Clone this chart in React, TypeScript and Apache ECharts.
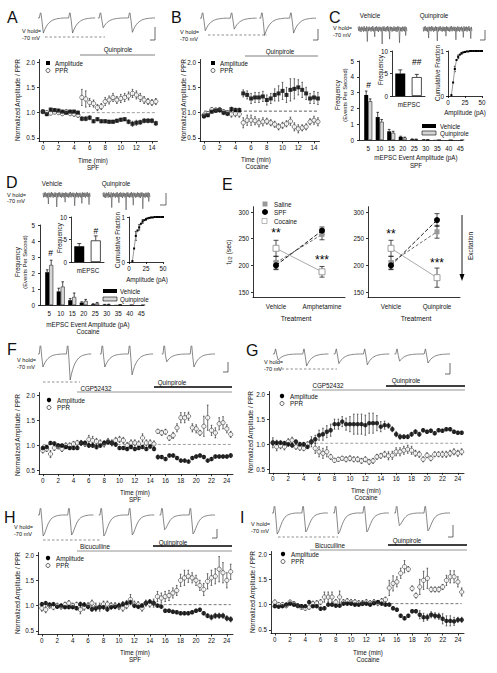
import React, { useEffect, useRef } from "react";
import * as echarts from "echarts";

const FONT = "'Liberation Sans', Arial, Helvetica, sans-serif";
const FS = 6.3;
const INK = "#111";

// ---------------- time axes ----------------
const T15 = [0, 0.5, 1, 1.5, 2, 2.5, 3, 3.5, 4, 4.5, 5, 5.5, 6, 6.5, 7, 7.5, 8, 8.5, 9, 9.5, 10, 10.5, 11, 11.5, 12, 12.5, 13, 13.5, 14, 14.5];
const T25 = [0, 0.5, 1, 1.5, 2, 2.5, 3, 3.5, 4, 4.5, 5, 5.5, 6, 6.5, 7, 7.5, 8, 8.5, 9, 9.5, 10, 10.5, 11, 11.5, 12, 12.5, 13, 13.5, 14, 14.5,
  15, 15.5, 16, 16.5, 17, 17.5, 18, 18.5, 19, 19.5, 20, 20.5, 21, 21.5, 22, 22.5, 23, 23.5, 24, 24.5];
const TICKS15 = [0, 2, 4, 6, 8, 10, 12, 14];
const TICKS25 = [0, 2, 4, 6, 8, 10, 12, 14, 16, 18, 20, 22, 24];
const NORM_TICKS = [0.5, 1.0, 1.5, 2.0];

// ---------------- Panel A (SPF) ----------------
const A_AMP = [1.02, 0.97, 1.06, 1.05, 1.04, 1.02, 1.0, 1.02, 1.02, 1.0, 0.88, 0.88, 0.9, 0.83, 0.87, 0.83, 0.83, 0.82, 0.82, 0.84, 0.86, 0.87, 0.82, 0.78, 0.8, 0.81, 0.84, 0.84, 0.84, 0.79];
const A_AMP_ERR = [0.03, 0.03, 0.03, 0.03, 0.03, 0.03, 0.03, 0.03, 0.03, 0.03, 0.04, 0.04, 0.04, 0.03, 0.03, 0.03, 0.03, 0.03, 0.03, 0.03, 0.03, 0.03, 0.04, 0.05, 0.05, 0.04, 0.04, 0.04, 0.04, 0.04];
const A_PPR = [1.02, 1.0, 0.99, 1.01, 1.0, 0.98, 1.02, 0.98, 0.97, 0.95, 1.3, 1.27, 1.2, 1.18, 1.1, 1.12, 1.22, 1.25, 1.3, 1.25, 1.28, 1.3, 1.33, 1.38, 1.35, 1.3, 1.25, 1.22, 1.2, 1.22];
const A_PPR_ERR = [0.03, 0.04, 0.03, 0.03, 0.03, 0.03, 0.04, 0.03, 0.04, 0.04, 0.16, 0.16, 0.08, 0.07, 0.06, 0.06, 0.08, 0.08, 0.08, 0.07, 0.08, 0.08, 0.08, 0.08, 0.08, 0.08, 0.07, 0.06, 0.06, 0.06];
const A_REF = [[5, 1], [14.5, 1]];

// ---------------- Panel B (Cocaine) ----------------
const B_AMP = [0.93, 0.95, 1.02, 1.04, 1.05, 1.0, 0.98, 1.07, 1.05, 1.05, 1.38, 1.35, 1.28, 1.3, 1.3, 1.32, 1.25, 1.28, 1.35, 1.38, 1.43, 1.35, 1.45, 1.47, 1.5, 1.45, 1.38, 1.28, 1.3, 1.28];
const B_AMP_ERR = [0.04, 0.03, 0.03, 0.03, 0.04, 0.04, 0.04, 0.04, 0.04, 0.04, 0.07, 0.08, 0.1, 0.1, 0.1, 0.1, 0.1, 0.1, 0.12, 0.15, 0.17, 0.15, 0.22, 0.2, 0.15, 0.15, 0.12, 0.1, 0.12, 0.12];
const B_PPR = [0.95, 0.98, 1.06, 1.05, 1.06, 1.02, 1.0, 0.97, 0.98, 0.97, 0.8, 0.85, 0.85, 0.84, 0.8, 0.82, 0.83, 0.8, 0.77, 0.72, 0.75, 0.78, 0.83, 0.72, 0.68, 0.7, 0.72, 0.82, 0.85, 0.82];
const B_PPR_ERR = [0.04, 0.04, 0.04, 0.04, 0.04, 0.04, 0.04, 0.06, 0.06, 0.06, 0.1, 0.1, 0.1, 0.08, 0.08, 0.08, 0.06, 0.06, 0.06, 0.06, 0.06, 0.06, 0.08, 0.08, 0.08, 0.06, 0.06, 0.06, 0.08, 0.08];
const B_REF = [[0, 1.03], [14.5, 1.03]];

// ---------------- Panels C / D (mEPSC histograms) ----------------
const MEPSC_BINS = [5, 10, 15, 20, 25, 30, 35, 40, 45];
const FREQ_TICKS = [0, 1, 2, 3, 4, 5];
const C_VEH = [2.85, 1.45, 0.55, 0.2, 0.05, 0.02, 0.01, 0, 0];
const C_VEH_ERR = [0.25, 0.3, 0.12, 0.04, 0.02, 0.01, 0, 0, 0];
const C_QUIN = [2.45, 1.15, 0.45, 0.15, 0.04, 0.01, 0.01, 0, 0];
const C_QUIN_ERR = [0.15, 0.15, 0.1, 0.03, 0.02, 0.01, 0, 0, 0];
const C_SIG_X = [5.2];
const C_SIG_Y = [3.45];
const C_SIG_T = ["#"];
const D_VEH = [2.05, 0.85, 0.3, 0.15, 0.05, 0.03, 0.01, 0, 0];
const D_VEH_ERR = [0.15, 0.2, 0.1, 0.05, 0.03, 0.01, 0, 0, 0];
const D_QUIN = [2.5, 1.15, 0.5, 0.25, 0.1, 0.03, 0.01, 0.01, 0];
const D_QUIN_ERR = [0.3, 0.3, 0.25, 0.1, 0.06, 0.02, 0.01, 0, 0];
const D_SIG_X = [5.6];
const D_SIG_Y = [3.25];
const D_SIG_T = ["#"];

const INSET_CATS = ["Vehicle", "Quinpirole"];
const INSET_TICKS = [0, 5, 10];
const C_FREQ = [5.0, 4.2];
const C_FREQ_ERR = [0.8, 0.6];
const C_FREQ_SIG = ["", "##"];
const C_FREQ_SIG_Y = [0, 7.6];
const D_FREQ = [3.5, 4.8];
const D_FREQ_ERR = [0.6, 1.0];
const D_FREQ_SIG = ["", "#"];
const D_FREQ_SIG_Y = [0, 7.0];

const CUM_X = [5, 7.5, 10, 12.5, 15, 17.5, 20, 22.5, 25, 27.5, 30, 32.5, 35, 37.5, 40, 42.5, 45, 47.5, 50];
const C_CUM = [0.02, 0.3, 0.6, 0.8, 0.87, 0.92, 0.95, 0.97, 0.98, 0.99, 0.99, 1, 1, 1, 1, 1, 1, 1, 1];
const C_CUM_ERR = [0, 0, 0.06, 0, 0.04, 0, 0.02, 0, 0.01, 0, 0, 0, 0, 0, 0, 0, 0, 0, 0];
const D_CUM = [0.02, 0.3, 0.58, 0.7, 0.77, 0.85, 0.9, 0.93, 0.95, 0.97, 0.98, 0.99, 0.99, 1, 1, 1, 1, 1, 1];
const D_CUM_ERR = [0, 0, 0.1, 0, 0.06, 0, 0.04, 0, 0.02, 0, 0.01, 0, 0, 0, 0, 0, 0, 0, 0];
const CUM_X_TICKS = [0, 25, 50];
const CUM_Y_TICKS = [0, 1];

// ---------------- Panel E ----------------
const E_TICKS = [150, 200, 250, 300];
const E_CATS_L = ["Vehicle", "Amphetamine"];
const E_CATS_R = ["Vehicle", "Quinpirole"];
const E_L_SALINE = [205, 258];
const E_L_SALINE_ERR = [12, 10];
const E_L_SPF = [200, 265];
const E_L_SPF_ERR = [8, 7];
const E_L_COC = [232, 188];
const E_L_COC_ERR = [15, 10];
const E_R_SALINE = [205, 263];
const E_R_SALINE_ERR = [12, 12];
const E_R_SPF = [200, 285];
const E_R_SPF_ERR = [8, 12];
const E_R_COC = [232, 177];
const E_R_COC_ERR = [15, 18];
const E_L_STARS = ["**", "***"];
const E_L_STAR_Y = [261, 210];
const E_R_STARS = ["**", "***"];
const E_R_STAR_Y = [259, 204];

// ---------------- Panel F (SPF, CGP52432) ----------------
const F_AMP = [0.95, 0.97, 1.05, 1.04, 1.0, 1.0, 0.97, 0.95, 0.95, 0.95, 1.05, 1.05, 1.0, 1.0, 0.97, 1.0, 1.05, 1.07, 1.05, 1.02, 0.95, 0.95, 0.93, 0.97, 0.93, 0.95, 0.97, 0.93, 0.98, 0.93,
  0.77, 0.77, 0.73, 0.8, 0.8, 0.75, 0.7, 0.7, 0.68, 0.75, 0.78, 0.8, 0.77, 0.7, 0.73, 0.78, 0.78, 0.78, 0.78, 0.8];
const F_AMP_ERR = [0.04, 0.03, 0.03, 0.03, 0.03, 0.03, 0.03, 0.03, 0.03, 0.03, 0.04, 0.04, 0.04, 0.04, 0.04, 0.04, 0.04, 0.04, 0.04, 0.04, 0.03, 0.03, 0.03, 0.03, 0.03, 0.03, 0.03, 0.03, 0.03, 0.03,
  0.04, 0.03, 0.03, 0.03, 0.03, 0.03, 0.03, 0.03, 0.03, 0.03, 0.03, 0.03, 0.03, 0.03, 0.03, 0.03, 0.03, 0.03, 0.03, 0.04];
const F_PPR = [0.9, 0.93, 0.83, 0.95, 0.98, 0.93, 1.0, 1.0, 1.03, 1.05, 1.05, 1.03, 1.12, 1.1, 1.08, 1.05, 1.03, 1.08, 1.05, 1.1, 1.12, 1.1, 1.0, 1.05, 1.05, 1.03, 1.15, 1.05, 1.05, 1.03,
  1.28, 1.25, 1.27, 1.15, 1.2, 1.35, 1.55, 1.55, 1.58, 1.35, 1.33, 1.25, 1.38, 1.55, 1.3, 1.25, 1.43, 1.45, 1.33, 1.22];
const F_PPR_ERR = [0.05, 0.05, 0.07, 0.05, 0.05, 0.05, 0.05, 0.05, 0.05, 0.05, 0.05, 0.05, 0.08, 0.08, 0.06, 0.06, 0.06, 0.06, 0.06, 0.06, 0.06, 0.06, 0.06, 0.06, 0.06, 0.06, 0.08, 0.06, 0.06, 0.06,
  0.04, 0.05, 0.05, 0.05, 0.06, 0.08, 0.1, 0.1, 0.08, 0.08, 0.08, 0.05, 0.2, 0.25, 0.1, 0.1, 0.12, 0.12, 0.08, 0.06];
const F_REF = [[0, 1.02], [24.5, 1.02]];

// ---------------- Panel G (Cocaine, CGP52432) ----------------
const G_AMP = [1.03, 1.03, 1.03, 1.02, 1.0, 0.98, 1.05, 1.0, 1.0, 0.95, 1.05, 1.1, 1.18, 1.2, 1.25, 1.28, 1.4, 1.4, 1.45, 1.4, 1.4, 1.4, 1.4, 1.4, 1.38, 1.42, 1.42, 1.42, 1.35, 1.38,
  1.37, 1.3, 1.2, 1.15, 1.15, 1.15, 1.2, 1.25, 1.2, 1.28, 1.25, 1.27, 1.22, 1.28, 1.27, 1.3, 1.3, 1.25, 1.23, 1.23];
const G_AMP_ERR = [0.05, 0.05, 0.04, 0.04, 0.04, 0.04, 0.04, 0.04, 0.04, 0.04, 0.05, 0.08, 0.1, 0.12, 0.12, 0.12, 0.1, 0.1, 0.1, 0.12, 0.15, 0.2, 0.2, 0.2, 0.2, 0.2, 0.2, 0.15, 0.1, 0.08,
  0.05, 0.05, 0.05, 0.05, 0.04, 0.04, 0.04, 0.04, 0.04, 0.03, 0.03, 0.03, 0.03, 0.03, 0.03, 0.03, 0.03, 0.03, 0.03, 0.03];
const G_PPR = [1.03, 0.95, 0.97, 0.95, 1.05, 1.08, 0.95, 0.93, 0.92, 1.0, 1.05, 0.92, 0.85, 0.82, 0.85, 0.75, 0.68, 0.7, 0.72, 0.7, 0.72, 0.7, 0.7, 0.67, 0.7, 0.65, 0.67, 0.75, 0.77, 0.8,
  0.77, 0.78, 0.85, 0.85, 0.88, 0.9, 0.88, 0.82, 0.8, 0.7, 0.78, 0.72, 0.8, 0.8, 0.8, 0.8, 0.82, 0.85, 0.82, 0.85];
const G_PPR_ERR = [0.1, 0.08, 0.06, 0.06, 0.06, 0.06, 0.05, 0.05, 0.05, 0.05, 0.1, 0.1, 0.1, 0.1, 0.1, 0.05, 0.04, 0.04, 0.04, 0.05, 0.05, 0.05, 0.05, 0.05, 0.05, 0.05, 0.05, 0.05, 0.05, 0.06,
  0.08, 0.08, 0.08, 0.08, 0.08, 0.08, 0.08, 0.06, 0.06, 0.05, 0.05, 0.05, 0.05, 0.05, 0.06, 0.06, 0.06, 0.06, 0.06, 0.06];
const G_REF = [[5.5, 1.02], [24.5, 1.02]];

// ---------------- Panel H (SPF, Bicuculline) ----------------
const H_AMP = [1.03, 1.05, 1.02, 1.03, 0.98, 1.0, 0.97, 0.97, 0.97, 0.95, 1.03, 1.02, 0.98, 0.93, 0.95, 0.97, 0.97, 0.93, 0.97, 0.98, 1.0, 1.03, 1.05, 1.07, 1.0, 0.98, 1.0, 1.05, 1.08, 1.05,
  1.0, 0.98, 0.9, 0.9, 0.88, 0.87, 0.85, 0.85, 0.85, 0.87, 0.9, 0.92, 0.85, 0.8, 0.77, 0.8, 0.8, 0.8, 0.75, 0.73];
const H_AMP_ERR = [0.03, 0.03, 0.03, 0.03, 0.03, 0.03, 0.03, 0.03, 0.03, 0.03, 0.04, 0.04, 0.04, 0.04, 0.04, 0.04, 0.04, 0.04, 0.04, 0.04, 0.05, 0.05, 0.05, 0.05, 0.04, 0.04, 0.04, 0.04, 0.04, 0.04,
  0.03, 0.03, 0.03, 0.03, 0.03, 0.03, 0.03, 0.03, 0.03, 0.03, 0.03, 0.03, 0.03, 0.04, 0.05, 0.05, 0.05, 0.05, 0.05, 0.05];
const H_PPR = [0.95, 0.92, 1.0, 0.97, 1.0, 0.98, 1.02, 1.05, 1.0, 1.02, 0.92, 0.97, 1.0, 1.05, 0.97, 0.97, 1.03, 1.03, 1.0, 1.0, 0.98, 0.95, 1.0, 1.12, 1.03, 1.02, 0.95, 1.05, 1.03, 1.05,
  1.18, 1.15, 1.18, 1.2, 1.25, 1.3, 1.5, 1.55, 1.58, 1.55, 1.5, 1.4, 1.32, 1.48, 1.55, 1.58, 1.72, 1.65, 1.5, 1.67];
const H_PPR_ERR = [0.06, 0.06, 0.05, 0.05, 0.05, 0.05, 0.05, 0.05, 0.05, 0.05, 0.08, 0.06, 0.06, 0.06, 0.08, 0.08, 0.06, 0.06, 0.06, 0.06, 0.06, 0.06, 0.06, 0.1, 0.06, 0.06, 0.06, 0.06, 0.06, 0.08,
  0.1, 0.1, 0.1, 0.1, 0.1, 0.1, 0.12, 0.15, 0.12, 0.1, 0.1, 0.1, 0.12, 0.15, 0.15, 0.15, 0.25, 0.2, 0.15, 0.15];
const H_REF = [[14.5, 1.02], [24.5, 1.02]];

// ---------------- Panel I (Cocaine, Bicuculline) ----------------
const I_AMP = [0.97, 0.96, 0.97, 1.0, 1.02, 1.0, 0.98, 0.97, 0.97, 1.05, 0.97, 0.97, 0.92, 0.93, 1.0, 1.0, 0.98, 0.98, 1.02, 1.02, 1.02, 1.0, 1.0, 1.02, 1.02, 1.0, 1.03, 1.05, 1.02, 1.0,
  1.0, 0.93, 0.9, 0.78, 0.73, 0.78, 0.87, 0.87, 0.8, 0.75, 0.75, 0.8, 0.78, 0.77, 0.72, 0.68, 0.68, 0.67, 0.7, 0.7];
const I_AMP_ERR = [0.03, 0.03, 0.03, 0.03, 0.03, 0.03, 0.03, 0.03, 0.03, 0.03, 0.03, 0.03, 0.03, 0.03, 0.03, 0.03, 0.03, 0.03, 0.03, 0.03, 0.03, 0.03, 0.03, 0.03, 0.03, 0.03, 0.03, 0.03, 0.03, 0.03,
  0.03, 0.03, 0.03, 0.03, 0.03, 0.03, 0.03, 0.03, 0.08, 0.08, 0.06, 0.06, 0.06, 0.06, 0.1, 0.1, 0.1, 0.08, 0.05, 0.05];
const I_PPR = [1.05, 1.0, 1.0, 0.98, 1.05, 1.02, 0.98, 0.95, 0.93, 0.95, 1.02, 1.03, 1.05, 1.15, 1.15, 1.15, 1.05, 1.15, 1.05, 1.07, 1.05, 1.05, 1.03, 1.03, 1.05, 1.03, 1.05, 1.03, 1.07, 1.1,
  1.33, 1.42, 1.45, 1.62, 1.75, 1.7, 1.32, 1.18, 1.35, 1.48, 1.52, 1.3, 1.3, 1.3, 1.35, 1.48, 1.55, 1.55, 1.45, 1.25];
const I_PPR_ERR = [0.04, 0.04, 0.04, 0.04, 0.04, 0.04, 0.04, 0.04, 0.04, 0.04, 0.05, 0.05, 0.05, 0.1, 0.1, 0.1, 0.05, 0.12, 0.05, 0.05, 0.05, 0.05, 0.05, 0.05, 0.05, 0.05, 0.05, 0.05, 0.05, 0.05,
  0.15, 0.15, 0.1, 0.1, 0.12, 0.05, 0.05, 0.05, 0.15, 0.18, 0.2, 0.05, 0.05, 0.05, 0.05, 0.1, 0.12, 0.12, 0.1, 0.08];
const I_REF = [[14.5, 1.02], [24.5, 1.02]];

// ---------------- example traces (normalised EPSC shape, amplitudes per sweep) ----------------
const PULSE_FAST = [0, 0, 0.45, -0.2, -1, -0.78, -0.6, -0.46, -0.35, -0.27, -0.2, -0.15, -0.11, -0.08, -0.06, -0.04, -0.03, -0.02, -0.01, 0, 0, 0];
const PULSE_SLOW = [0, 0, 0.45, -0.25, -1, -0.9, -0.72, -0.55, -0.4, -0.29, -0.2, -0.14, -0.1, -0.07, -0.05, -0.03, -0.02, -0.01, 0, 0, 0, 0];
const A_SWEEPS = [[1.0, 1.0], [0.65, 0.95]];
const B_SWEEPS = [[0.8, 0.7], [1.1, 0.95]];
const F_SWEEPS = [[0.5, 1.0], [0.5, 0.8], [0.3, 0.5]];
const G_SWEEPS = [[0.5, 1.0], [0.8, 0.9], [0.6, 0.75]];
const H_SWEEPS = [[1.0, 0.95], [1.0, 0.95], [0.7, 0.9]];
const I_SWEEPS = [[1.0, 0.9], [1.0, 0.9], [0.6, 0.85]];

const NOISE_1 = [0.7, -0.6, 0.9, -0.8, 0.5, -1.0, 0.8, -0.5, 0.6, -0.9, 1.0, -0.7, 0.4, -0.8, 0.9, -4.2, 0.6, -0.7, 0.8, -0.5,
  0.5, -0.9, 0.7, -0.6, 1.0, -0.8, 0.5, -2.6, 0.7, -0.6, 0.9, -0.7, 0.6, -1.0, 0.8, -0.5, 0.7, -0.8, 0.5, -5.0,
  0.8, -0.6, 0.9, -0.7, 0.5, -0.9, 0.7, -0.6, 1.0, -0.8, 0.6, -3.4, 0.8, -0.5, 0.7, -0.9, 0.5, -0.7, 0.9, -0.6,
  0.7, -0.8, 0.6, -1.0, 0.9, -0.5, 0.8, -4.6, 0.6, -0.7, 0.5, -0.9, 0.8, -0.6, 0.7, -0.8, 0.9, -2.2, 0.6, -0.7];
const NOISE_2 = [0.6, -0.8, 0.8, -0.6, 0.9, -0.7, 0.5, -0.9, 0.7, -3.0, 0.8, -0.6, 0.6, -0.8, 1.0, -0.5, 0.7, -0.9, 0.5, -0.7,
  0.9, -0.6, 0.7, -4.0, 0.6, -0.8, 0.8, -0.5, 0.9, -0.7, 0.5, -0.9, 0.8, -0.6, 0.7, -0.8, 0.6, -2.4, 0.9, -0.6,
  0.7, -0.7, 0.5, -0.9, 0.8, -0.6, 1.0, -0.8, 0.6, -0.5, 0.8, -0.7, 0.7, -3.6, 0.5, -0.8, 0.9, -0.6, 0.7, -0.9,
  0.6, -0.5, 0.8, -0.8, 0.5, -2.8, 0.9, -0.7, 0.7, -0.6, 0.8, -0.9, 0.6, -0.5, 1.0, -0.7, 0.5, -3.2, 0.7, -0.6];

function pairTrace(groups: number[][], pulse: number[], gap: number) {
  const pts: any[] = [];
  let x = 0;
  groups.forEach((g, gi) => {
    if (gi > 0) {
      pts.push([x, null]);
      x += gap;
    }
    g.forEach((a) => pulse.forEach((v) => { pts.push([x, v > 0 ? v : v * a]); x += 1; }));
  });
  return { pts, n: x - 1 };
}
function noiseTrace(arrs: number[][], gap: number) {
  const pts: any[] = [];
  let x = 0;
  arrs.forEach((arr, gi) => {
    if (gi > 0) { pts.push([x, null]); x += gap; }
    arr.forEach((v) => { pts.push([x, v]); x += 1; });
  });
  return { pts, n: x - 1 };
}

function errItem(offset: number, cap: number, upOnly: boolean, color: string, lw: number) {
  return function (_p: any, api: any) {
    const x = api.value(0), y = api.value(1), e = api.value(2);
    if (!e) return { type: "group", children: [] };
    const p1 = api.coord([x, y + e]);
    const p0 = api.coord([x, upOnly ? y : y - e]);
    const cx = p1[0] + offset;
    const st = { stroke: color, lineWidth: lw };
    const ch: any[] = [{ type: "line", shape: { x1: cx, y1: p1[1], x2: cx, y2: p0[1] }, style: st }];
    if (cap > 0) {
      ch.push({ type: "line", shape: { x1: cx - cap, y1: p1[1], x2: cx + cap, y2: p1[1] }, style: st });
      if (!upOnly) ch.push({ type: "line", shape: { x1: cx - cap, y1: p0[1], x2: cx + cap, y2: p0[1] }, style: st });
    }
    return { type: "group", children: ch };
  };
}

function buildOption() {
  const grid: any[] = [], xAxis: any[] = [], yAxis: any[] = [], series: any[] = [], graphic: any[] = [];
  const marks: any[] = [];
  const addGrid = (left: number, top: number, width: number, height: number) => {
    grid.push({ left, top, width, height });
    return grid.length - 1;
  };
  const axisLine = { show: true, onZero: false, lineStyle: { color: "#000", width: 0.8 } };
  const lbl = (vals: number[], fmt?: any, margin = 3) => ({ show: true, customValues: vals, fontSize: FS, color: INK, fontFamily: FONT, margin, formatter: fmt });
  const tick = (vals: number[], len = 2) => ({ show: true, customValues: vals, length: len, lineStyle: { color: "#000", width: 0.8 } });
  // significance marks: placed later through chart.convertToPixel on the grid's own axes
  const markLabels = (gi: number, pts: any[], fs: number) => {
    pts.forEach((p) => { if (p[2]) marks.push({ gi, x: p[0], y: p[1], text: p[2], fs }); });
  };

  // --- traces ---
  const addTrace = (left: number, top: number, width: number, height: number, ymin: number, ymax: number, tr: any, color = "#555", lw = 0.7) => {
    const gi = addGrid(left, top, width, height);
    xAxis.push({ gridIndex: gi, type: "value", min: 0, max: tr.n, show: false });
    yAxis.push({ gridIndex: gi, type: "value", min: ymin, max: ymax, show: false });
    series.push({ type: "line", xAxisIndex: gi, yAxisIndex: gi, data: tr.pts, symbol: "none", connectNulls: false, lineStyle: { color, width: lw }, silent: true });
  };

  // --- time course panels ---
  const addTime = (p: any) => {
    const gi = addGrid(p.left, p.top, p.width, p.height);
    xAxis.push({ gridIndex: gi, type: "value", min: p.xmin, max: p.xmax, axisLine, axisTick: tick(p.xticks), axisLabel: lbl(p.xticks), splitLine: { show: false } });
    yAxis.push({ gridIndex: gi, type: "value", min: 0.43, max: 2.05, axisLine, axisTick: tick(NORM_TICKS), axisLabel: lbl(NORM_TICKS, (v: number) => v.toFixed(1), 4), splitLine: { show: false } });
    series.push({ type: "line", xAxisIndex: gi, yAxisIndex: gi, data: p.ref, symbol: "none", lineStyle: { color: p.refColor, width: 0.8, type: [3, 2] }, z: 1, silent: true });
    const amp = p.T.map((t: number, i: number) => [t, p.amp[i], p.ampErr[i]]);
    const ppr = p.T.map((t: number, i: number) => [t, p.ppr[i], p.pprErr[i]]);
    series.push({ type: "custom", xAxisIndex: gi, yAxisIndex: gi, data: ppr, encode: { x: 0, y: 1 }, renderItem: errItem(0, 0.8, false, "#333", 0.7), z: 2, silent: true });
    series.push({ type: "custom", xAxisIndex: gi, yAxisIndex: gi, data: amp, encode: { x: 0, y: 1 }, renderItem: errItem(0, 0.8, false, "#333", 0.7), z: 2, silent: true });
    series.push({ type: "scatter", xAxisIndex: gi, yAxisIndex: gi, data: ppr.map((d: number[]) => [d[0], d[1]]), symbol: "circle", symbolSize: 4.3, itemStyle: { color: "#fff", borderColor: "#222", borderWidth: 0.7 }, z: 3, silent: true });
    series.push({ type: "scatter", xAxisIndex: gi, yAxisIndex: gi, data: amp.map((d: number[]) => [d[0], d[1]]), symbol: p.ampSymbol, symbolSize: p.ampSymbol === "rect" ? 4 : 4.5, itemStyle: { color: "#000" }, z: 4, silent: true });
  };

  // --- mEPSC histograms ---
  const addHist = (left: number, top: number, height: number, veh: number[], vehE: number[], quin: number[], quinE: number[], sx: number[], sy: number[], st: string[]) => {
    const gi = addGrid(left, top, 103.5, height);
    xAxis.push({ gridIndex: gi, type: "value", min: 1, max: 46, axisLine, axisTick: { show: false }, axisLabel: lbl(MEPSC_BINS, undefined, 5), splitLine: { show: false } });
    yAxis.push({ gridIndex: gi, type: "value", min: 0, max: 5, axisLine, axisTick: tick(FREQ_TICKS), axisLabel: lbl(FREQ_TICKS, undefined, 5), splitLine: { show: false } });
    series.push({ type: "bar", xAxisIndex: gi, yAxisIndex: gi, data: MEPSC_BINS.map((b, i) => [b, veh[i]]), barWidth: 4, barGap: "0%", itemStyle: { color: "#000" }, silent: true });
    series.push({ type: "bar", xAxisIndex: gi, yAxisIndex: gi, data: MEPSC_BINS.map((b, i) => [b, quin[i]]), barWidth: 4, barGap: "0%", itemStyle: { color: "#d6d6d6", borderColor: "#000", borderWidth: 0.5 }, silent: true });
    series.push({ type: "custom", xAxisIndex: gi, yAxisIndex: gi, data: MEPSC_BINS.map((b, i) => [b, veh[i], vehE[i]]), encode: { x: 0, y: 1 }, renderItem: errItem(-2, 1.3, true, "#000", 0.7), z: 3, silent: true });
    series.push({ type: "custom", xAxisIndex: gi, yAxisIndex: gi, data: MEPSC_BINS.map((b, i) => [b, quin[i], quinE[i]]), encode: { x: 0, y: 1 }, renderItem: errItem(2, 1.3, true, "#000", 0.7), z: 3, silent: true });
    markLabels(gi, sx.map((x, i) => [x, sy[i], st[i]]), 8.5);
  };

  const addInsetFreq = (left: number, top: number, vals: number[], errs: number[], sig: string[], sigY: number[]) => {
    const gi = addGrid(left, top, 33, 45);
    xAxis.push({ gridIndex: gi, type: "category", data: INSET_CATS, axisLine, axisTick: { show: false }, axisLabel: { show: false } });
    yAxis.push({ gridIndex: gi, type: "value", min: 0, max: 10, axisLine, axisTick: tick(INSET_TICKS), axisLabel: lbl(INSET_TICKS, undefined, 4), splitLine: { show: false } });
    series.push({ type: "bar", xAxisIndex: gi, yAxisIndex: gi, barWidth: 10, silent: true,
      data: vals.map((v, i) => ({ value: v, itemStyle: i === 0 ? { color: "#000" } : { color: "#fff", borderColor: "#000", borderWidth: 0.7 } })) });
    series.push({ type: "custom", xAxisIndex: gi, yAxisIndex: gi, data: vals.map((v, i) => [i, v, errs[i]]), encode: { x: 0, y: 1 }, renderItem: errItem(0, 2, true, "#000", 0.7), z: 3, silent: true });
    markLabels(gi, sig.map((s, i) => [INSET_CATS[i], sigY[i], s]), 8.5);
  };

  const addCum = (left: number, top: number, ys: number[], errs: number[]) => {
    const gi = addGrid(left, top, 34, 45);
    xAxis.push({ gridIndex: gi, type: "value", min: 0, max: 50, axisLine, axisTick: tick(CUM_X_TICKS), axisLabel: lbl(CUM_X_TICKS), splitLine: { show: false } });
    yAxis.push({ gridIndex: gi, type: "value", min: 0, max: 1, axisLine, axisTick: tick(CUM_Y_TICKS), axisLabel: lbl(CUM_Y_TICKS, undefined, 4), splitLine: { show: false } });
    series.push({ type: "line", xAxisIndex: gi, yAxisIndex: gi, data: CUM_X.map((x, i) => [x, ys[i]]), symbol: "rect", symbolSize: 2, itemStyle: { color: "#000" }, lineStyle: { color: "#999", width: 1 }, silent: true });
    series.push({ type: "custom", xAxisIndex: gi, yAxisIndex: gi, data: CUM_X.map((x, i) => [x, ys[i], errs[i]]), encode: { x: 0, y: 1 }, renderItem: errItem(0, 1, false, "#000", 0.7), z: 3, silent: true });
  };

  const addE = (left: number, cats: string[], sal: number[], salE: number[], spf: number[], spfE: number[], coc: number[], cocE: number[], stars: string[], starY: number[]) => {
    const gi = addGrid(left, 206.7, 92, 90.7);
    xAxis.push({ gridIndex: gi, type: "category", data: cats, axisLine, axisTick: { show: false }, axisLabel: { fontSize: FS, color: INK, fontFamily: FONT, margin: 6, interval: 0 } });
    yAxis.push({ gridIndex: gi, type: "value", min: 140, max: 310, axisLine, axisTick: tick(E_TICKS), axisLabel: lbl(E_TICKS, undefined, 4), splitLine: { show: false } });
    const eb = (vals: number[], errs: number[]) => ({ type: "custom", xAxisIndex: gi, yAxisIndex: gi, data: vals.map((v, i) => [i, v, errs[i]]), encode: { x: 0, y: 1 }, renderItem: errItem(0, 2.5, false, "#222", 0.8), z: 2, silent: true });
    series.push(eb(coc, cocE), eb(sal, salE), eb(spf, spfE));
    series.push({ type: "line", xAxisIndex: gi, yAxisIndex: gi, data: coc, symbol: "rect", symbolSize: 6, itemStyle: { color: "#fff", borderColor: "#888", borderWidth: 0.8 }, lineStyle: { color: "#aaa", width: 1 }, z: 3, silent: true });
    series.push({ type: "line", xAxisIndex: gi, yAxisIndex: gi, data: sal, symbol: "rect", symbolSize: 5, itemStyle: { color: "#999" }, lineStyle: { color: "#555", width: 0.9, type: [3, 2] }, z: 4, silent: true });
    series.push({ type: "line", xAxisIndex: gi, yAxisIndex: gi, data: spf, symbol: "circle", symbolSize: 6, itemStyle: { color: "#000" }, lineStyle: { color: "#000", width: 0.9, type: [4, 2] }, z: 5, silent: true });
    markLabels(gi, stars.map((s, i) => [cats[i], starY[i], s]), 12);
  };

  // ===== Panel A =====
  addTrace(38, 13, 117, 22, -1.13, 0.33, pairTrace(A_SWEEPS, PULSE_FAST, 1));
  addTime({ left: 39, top: 59.5, width: 118.4, height: 82, xmin: -0.5, xmax: 14.7, xticks: TICKS15, T: T15, amp: A_AMP, ampErr: A_AMP_ERR, ppr: A_PPR, pprErr: A_PPR_ERR, ampSymbol: "rect", ref: A_REF, refColor: "#888" });
  // ===== Panel B =====
  addTrace(200, 13, 116, 24, -1.2, 0.33, pairTrace(B_SWEEPS, PULSE_FAST, 1));
  addTime({ left: 200, top: 59.5, width: 119.5, height: 82, xmin: -0.5, xmax: 14.7, xticks: TICKS15, T: T15, amp: B_AMP, ampErr: B_AMP_ERR, ppr: B_PPR, pprErr: B_PPR_ERR, ampSymbol: "rect", ref: B_REF, refColor: "#333" });
  // ===== Panel C =====
  addTrace(358, 23.9, 114, 21.6, -5.5, 1.7, noiseTrace([NOISE_1, NOISE_2], 25), "#333", 0.5);
  addHist(359, 61, 79, C_VEH, C_VEH_ERR, C_QUIN, C_QUIN_ERR, C_SIG_X, C_SIG_Y, C_SIG_T);
  addInsetFreq(392, 51, C_FREQ, C_FREQ_ERR, C_FREQ_SIG, C_FREQ_SIG_Y);
  addCum(448, 51, C_CUM, C_CUM_ERR);
  // ===== Panel D =====
  addTrace(43, 189.9, 107, 21.6, -5.5, 1.7, noiseTrace([NOISE_2, NOISE_1], 20), "#333", 0.5);
  addHist(40, 225, 80, D_VEH, D_VEH_ERR, D_QUIN, D_QUIN_ERR, D_SIG_X, D_SIG_Y, D_SIG_T);
  addInsetFreq(71, 217, D_FREQ, D_FREQ_ERR, D_FREQ_SIG, D_FREQ_SIG_Y);
  addCum(129, 217, D_CUM, D_CUM_ERR);
  // ===== Panel E =====
  addE(253, E_CATS_L, E_L_SALINE, E_L_SALINE_ERR, E_L_SPF, E_L_SPF_ERR, E_L_COC, E_L_COC_ERR, E_L_STARS, E_L_STAR_Y);
  addE(368, E_CATS_R, E_R_SALINE, E_R_SALINE_ERR, E_R_SPF, E_R_SPF_ERR, E_R_COC, E_R_COC_ERR, E_R_STARS, E_R_STAR_Y);
  // ===== Panel F =====
  addTrace(38, 346.2, 177, 39, -1.2, 0.3, pairTrace(F_SWEEPS, PULSE_FAST, 6));
  addTime({ left: 39, top: 392.5, width: 194, height: 81.7, xmin: -0.5, xmax: 24.8, xticks: TICKS25, T: T25, amp: F_AMP, ampErr: F_AMP_ERR, ppr: F_PPR, pprErr: F_PPR_ERR, ampSymbol: "circle", ref: F_REF, refColor: "#888" });
  // ===== Panel G =====
  addTrace(273, 349.2, 177, 19.2, -1.2, 0.4, pairTrace(G_SWEEPS, PULSE_FAST, 3));
  addTime({ left: 269, top: 391.5, width: 195, height: 81.4, xmin: -0.5, xmax: 24.8, xticks: TICKS25, T: T25, amp: G_AMP, ampErr: G_AMP_ERR, ppr: G_PPR, pprErr: G_PPR_ERR, ampSymbol: "circle", ref: G_REF, refColor: "#888" });
  // ===== Panel H =====
  addTrace(38, 508.7, 177, 30.5, -1.15, 0.3, pairTrace(H_SWEEPS, PULSE_SLOW, 3));
  addTime({ left: 38, top: 552.5, width: 195, height: 82, xmin: -0.5, xmax: 24.8, xticks: TICKS25, T: T25, amp: H_AMP, ampErr: H_AMP_ERR, ppr: H_PPR, pprErr: H_PPR_ERR, ampSymbol: "circle", ref: H_REF, refColor: "#555" });
  // ===== Panel I =====
  addTrace(272, 506.7, 178, 30.5, -1.15, 0.3, pairTrace(I_SWEEPS, PULSE_SLOW, 3));
  addTime({ left: 271, top: 551.5, width: 193, height: 82, xmin: -0.5, xmax: 24.8, xticks: TICKS25, T: T25, amp: I_AMP, ampErr: I_AMP_ERR, ppr: I_PPR, pprErr: I_PPR_ERR, ampSymbol: "circle", ref: I_REF, refColor: "#555" });

  // ---------------- graphic annotations ----------------
  const txt = (x: number, y: number, text: string, o: any = {}) => graphic.push({
    type: "text", x, y, rotation: o.rot || 0, silent: true,
    style: { text, fontSize: o.fs || FS, fontFamily: FONT, fill: o.fill || INK, fontWeight: o.fw || "normal",
      align: o.align || "center", verticalAlign: "middle", textAlign: o.align || "center", textVerticalAlign: "middle", rich: o.rich },
  });
  const line = (x1: number, y1: number, x2: number, y2: number, stroke: string, lw: number, dash?: number[]) =>
    graphic.push({ type: "line", silent: true, shape: { x1, y1, x2, y2 }, style: { stroke, lineWidth: lw, lineDash: dash } });
  const poly = (pts: number[][], stroke = "#444") => graphic.push({ type: "polyline", silent: true, shape: { points: pts }, style: { stroke, lineWidth: 0.8, fill: "none" } });
  const rect = (x: number, y: number, w: number, h: number, fill: string, stroke?: string) => graphic.push({ type: "rect", silent: true, shape: { x, y, width: w, height: h }, style: { fill, stroke, lineWidth: 0.6 } });
  const circ = (cx: number, cy: number, r: number, fill: string, stroke?: string) => graphic.push({ type: "circle", silent: true, shape: { cx, cy, r }, style: { fill, stroke, lineWidth: 0.7 } });
  const ROT = Math.PI / 2;

  // panel letters
  const LET = { fs: 16, align: "left" };
  txt(7, 17, "A", LET); txt(171, 17, "B", LET); txt(329, 17, "C", LET); txt(6, 182, "D", LET); txt(222, 184, "E", LET);
  txt(7, 349, "F", LET); txt(246, 350, "G", LET); txt(4, 517, "H", LET); txt(240, 517, "I", LET);

  // V hold labels
  const VH = { fs: 5.6, align: "left" };
  const vhold = (x: number, y: number) => { txt(x, y, "V hold=", VH); txt(x, y + 6.5, "-70 mV", VH); };
  vhold(22, 31); vhold(180, 32); vhold(333, 28); vhold(7, 194.5); vhold(17, 360); vhold(264, 362); vhold(14, 527); vhold(251, 524);

  // holding-current baselines (dashed) and scale bars
  const DASH = [2.5, 2];
  line(45, 37, 105, 37, "#777", 0.8, DASH); line(208, 35, 267, 35, "#777", 0.8, DASH);
  line(43, 382, 80, 382, "#777", 0.8, DASH); line(277, 369, 337, 369, "#777", 0.8, DASH);
  line(43, 540, 100, 540, "#777", 0.8, DASH); line(278, 537, 338, 537, "#777", 0.8, DASH);
  poly([[150, 40], [155, 40], [155, 27]]); poly([[313, 40], [318, 40], [318, 29]]); poly([[480, 40], [485, 40], [485, 30]]);
  poly([[160, 205], [166, 205], [166, 193]]); poly([[223, 372], [228, 372], [228, 362]]); poly([[445, 374], [450, 374], [450, 363]]);
  poly([[212, 538], [217, 538], [217, 529]]); poly([[448, 537], [453, 537], [453, 525]]);

  // drug application bars
  txt(118, 49, "Quinpirole"); line(80, 55, 155, 55, "#aaa", 1.6);
  txt(280, 51, "Quinpirole"); line(245, 56, 318, 56, "#aaa", 1.6);
  txt(172, 382, "Quinpirole"); line(154, 387, 232, 387, "#000", 1.4); txt(96, 388, "CGP52432"); line(77, 392, 232, 392, "#888", 0.9);
  txt(406, 380, "Quinpirole"); line(386, 386, 465, 386, "#000", 1.4); txt(328, 385, "CGP52432"); line(312, 390, 465, 390, "#888", 0.9);
  txt(173, 542, "Quinpirole"); line(153, 546, 232, 546, "#000", 1.4); txt(95, 546, "Bicuculline"); line(77, 551, 232, 551, "#888", 0.9);
  txt(407, 540, "Quinpirole"); line(388, 545, 467, 545, "#000", 1.4); txt(330, 545, "Bicuculline"); line(310, 550, 467, 550, "#888", 0.9);

  // mEPSC trace titles
  txt(370, 15, "Vehicle"); txt(434, 15, "Quinpirole"); txt(52, 183, "Vehicle"); txt(116, 183, "Quinpirole");

  // time-course legends
  const legSq = (x: number, y: number) => { rect(x - 2, y - 2, 4, 4, "#000"); txt(x + 7, y, "Amplitude", { align: "left" }); circ(x, y + 7.5, 2, "#fff", "#222"); txt(x + 7, y + 7.5, "PPR", { align: "left" }); };
  const legCi = (x: number, y: number) => { circ(x, y, 2.2, "#000"); txt(x + 8, y, "Amplitude", { align: "left" }); circ(x, y + 7.5, 2, "#fff", "#222"); txt(x + 8, y + 7.5, "PPR", { align: "left" }); };
  legSq(48, 63); legSq(213, 63); legCi(49, 400); legCi(282, 396); legCi(48, 558); legCi(283, 554);

  // axis titles, time-course panels
  const YN = "Normalized Amplitude / PPR";
  txt(17, 100, YN, { rot: ROT, fs: 6.5 }); txt(183, 100, YN, { rot: ROT, fs: 6.5 });
  txt(17, 435, YN, { rot: ROT, fs: 6.5 }); txt(250, 432, YN, { rot: ROT, fs: 6.5 });
  txt(17, 593, YN, { rot: ROT, fs: 6.5 }); txt(252, 592, YN, { rot: ROT, fs: 6.5 });
  txt(93, 160, "Time (min)"); txt(93, 167, "SPF");
  txt(256, 159, "Time (min)"); txt(257, 166, "Cocaine");
  txt(135, 492, "Time (min)"); txt(135, 499, "SPF");
  txt(366, 490, "Time (min)"); txt(366, 497, "Cocaine");
  txt(135, 652, "Time (min)"); txt(135, 659, "SPF");
  txt(368, 652, "Time (min)"); txt(368, 659, "Cocaine");

  // C / D titles
  txt(337, 95, "Frequency", { rot: ROT }); txt(345, 95, "(Events Per Second)", { rot: ROT, fs: 5.8 });
  txt(416, 157, "mEPSC Event Amplitude (pA)"); txt(416, 165, "SPF");
  txt(380, 70, "Frequency", { rot: ROT }); txt(409, 104, "mEPSC");
  txt(437, 73, "Cumulative Fraction", { rot: ROT }); txt(465, 112, "Amplitude (pA)");
  rect(422, 124, 14, 4, "#000"); txt(440, 126, "Vehicle", { align: "left" });
  rect(422, 131, 14, 4, "#d6d6d6", "#000"); txt(440, 133, "Quinpirole", { align: "left" });

  txt(17, 262, "Frequency", { rot: ROT }); txt(25, 262, "(Events Per Second)", { rot: ROT, fs: 5.8 });
  txt(88, 324, "mEPSC Event Amplitude (pA)"); txt(88, 331, "Cocaine");
  txt(59, 238, "Frequency", { rot: ROT }); txt(88, 270, "mEPSC");
  txt(117, 240, "Cumulative Fraction", { rot: ROT }); txt(147, 279, "Amplitude (pA)");
  rect(103, 289, 14, 4, "#000"); txt(120, 291, "Vehicle", { align: "left" });
  rect(103, 297, 14, 4, "#d6d6d6", "#000"); txt(120, 299, "Quinpirole", { align: "left" });

  // E titles / legend
  txt(228, 252, "{a|t}{b|1/2}{a| (sec)}", { rot: ROT, rich: { a: { fontSize: 6.8, fontFamily: FONT, fill: INK }, b: { fontSize: 4.5, fontFamily: FONT, fill: INK, padding: [4, 0, 0, 0] } } });
  txt(296, 318, "Treatment", { fs: 6.8 }); txt(416, 318, "Treatment", { fs: 6.8 });
  rect(262.5, 201.5, 5, 5, "#999"); txt(274, 204, "Saline", { align: "left" });
  circ(265, 212, 3, "#000"); txt(274, 212, "SPF", { align: "left" });
  rect(262, 218.5, 5, 5, "#fff", "#888"); txt(274, 221, "Cocaine", { align: "left" });
  line(462, 215, 462, 276, "#000", 0.9);
  graphic.push({ type: "polygon", silent: true, shape: { points: [[459.5, 274], [464.5, 274], [462, 281]] }, style: { fill: "#000" } });
  txt(470, 246, "Excitation", { rot: ROT, fs: 6.5 });

  return {
    option: {
      animation: false,
      backgroundColor: "#fff",
      textStyle: { fontFamily: FONT },
      grid, xAxis, yAxis, series, graphic,
    },
    marks,
  };
}

export default function App() {
  const ref = useRef<HTMLDivElement>(null);
  useEffect(() => {
    document.body.style.margin = "0";
    const chart = echarts.init(ref.current as HTMLDivElement, null, { renderer: "svg" });
    const { option, marks } = buildOption();
    chart.setOption(option as any);
    // significance symbols, positioned through each grid's own axes
    const extra = marks.map((m: any) => {
      const c = chart.convertToPixel({ gridIndex: m.gi } as any, [m.x, m.y]) as any;
      return {
        type: "text", x: c[0], y: c[1], silent: true,
        style: { text: m.text, fill: "#000", fontSize: m.fs, fontFamily: FONT, align: "center", verticalAlign: "middle", textAlign: "center", textVerticalAlign: "middle" },
      };
    });
    chart.setOption({ graphic: (option.graphic as any[]).concat(extra) } as any);
    return () => chart.dispose();
  }, []);
  return <div ref={ref} style={{ width: 497, height: 673, background: "#fff" }} />;
}
